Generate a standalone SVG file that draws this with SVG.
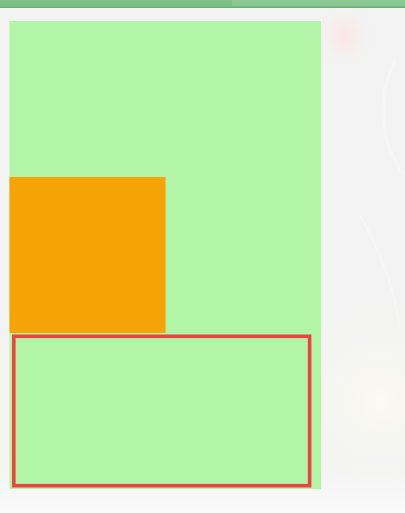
<svg xmlns="http://www.w3.org/2000/svg" width="405" height="513" viewBox="0 0 405 513">
  <defs>
    <radialGradient id="glow" cx="345" cy="35" r="35" gradientUnits="userSpaceOnUse">
      <stop offset="0" stop-color="#fbe6e2"/>
      <stop offset="1" stop-color="#f3f3f3" stop-opacity="0"/>
    </radialGradient>
    <radialGradient id="cream" cx="380" cy="400" r="110" gradientUnits="userSpaceOnUse">
      <stop offset="0" stop-color="#fafaee"/>
      <stop offset="1" stop-color="#f3f3f3" stop-opacity="0"/>
    </radialGradient>
    <linearGradient id="bottomFade" x1="0" y1="440" x2="0" y2="513" gradientUnits="userSpaceOnUse">
      <stop offset="0" stop-color="#f3f3f3" stop-opacity="0"/>
      <stop offset="1" stop-color="#fafafa"/>
    </linearGradient>
    <linearGradient id="bar" x1="0" y1="0" x2="0" y2="8" gradientUnits="userSpaceOnUse">
      <stop offset="0" stop-color="#80c28a"/>
      <stop offset="0.8" stop-color="#78bd84"/>
      <stop offset="1" stop-color="#5ea86a"/>
    </linearGradient>
  </defs>
  <style>
    .panel { fill: #b3f5a7; }
    .box { fill: #f5a307; }
    .frame { fill: none; stroke: #ee4242; stroke-width: 3.6; }
  </style>
  <rect width="405" height="513" fill="#f3f3f3"/>
  <rect width="405" height="513" fill="url(#glow)"/>
  <rect width="405" height="513" fill="url(#cream)"/>
  <rect width="405" height="513" fill="url(#bottomFade)"/>
  <path d="M395 60 C 370 110, 390 160, 405 175" fill="none" stroke="#ffffff" stroke-width="3" opacity="0.3"/>
  <path d="M360 215 C 380 250, 395 290, 400 330" fill="none" stroke="#ffffff" stroke-width="2" opacity="0.25"/>
  <rect x="0" y="0" width="405" height="8" fill="url(#bar)"/>
  <rect x="232" y="0" width="173" height="6" fill="#ffffff" opacity="0.12"/>
  <g id="panel">
    <rect class="panel" x="9.5" y="21" width="311.5" height="468"/>
  </g>
  <g id="orange-box">
    <rect class="box" x="9.5" y="177" width="156" height="156"/>
  </g>
  <g id="red-frame">
    <rect class="panel" x="12" y="334.5" width="299.5" height="153" fill-opacity="0.6"/>
    <rect class="frame" x="13.8" y="336.3" width="295.8" height="149.4"/>
  </g>
  <g id="connectors"/>
</svg>
